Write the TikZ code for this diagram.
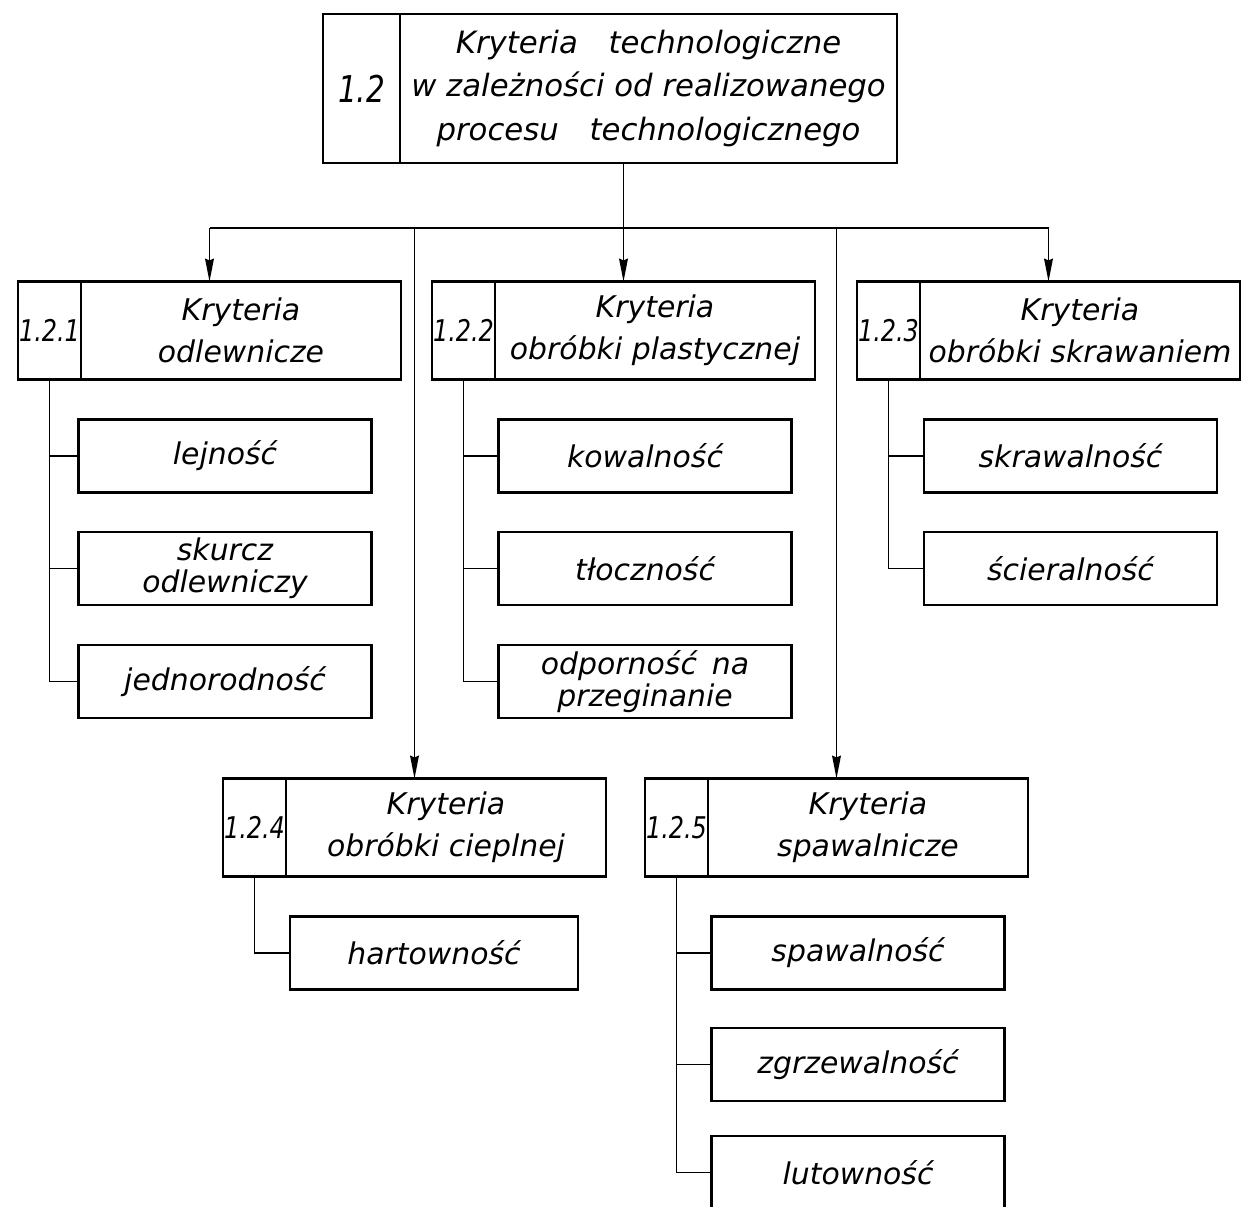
\documentclass[tikz,border=0pt]{standalone}
\usepackage{fontspec}
\setsansfont{DejaVu Sans}
\newfontfamily\narrowsans[FakeStretch=0.8]{DejaVu Sans}
\usepackage{tikz}
\usetikzlibrary{arrows.meta,calc,positioning}

\newcommand{\lettering}[2]{\sffamily\itshape\fontsize{#1}{#2}\selectfont}
\newcommand{\numbering}[1]{\narrowsans\itshape\fontsize{#1}{#1}\selectfont}

\begin{document}
\begin{tikzpicture}[
  box/.style={draw,line width=1.4pt,inner sep=0pt,outer sep=0pt,align=center},
  numcell/.style={box,minimum width=1.26cm,minimum height=1.96cm,font=\numbering{17}},
  headcell/.style={box,minimum width=6.4cm,minimum height=1.96cm,font=\lettering{17}{24}},
  leaf/.style={box,minimum width=5.86cm,minimum height=1.46cm,font=\lettering{17}{18}},
  link/.style={line width=0.9pt},
  feed/.style={link,-{Stealth[length=13pt,width=5pt,inset=1pt]}}
]
\useasboundingbox (0,0) rectangle (24.94,-24.14);

% Main criterion
\node[box,minimum width=1.54cm,minimum height=2.98cm,font=\numbering{21}] (n12) at (7.23,-1.77) {1.2};
\node[headcell,minimum width=9.94cm,minimum height=2.98cm,right=0pt of n12,font=\lettering{17.5}{24.5}] (t12)
  {Kryteria\quad technologiczne\\w zależności od realizowanego\\procesu\quad technologicznego};

% Sub-criteria, first row
\node[numcell] (n121) at (0.99,-6.61) {1.2.1};
\node[headcell,right=0pt of n121] (t121) {Kryteria\\odlewnicze};
\node[numcell] (n122) at (9.27,-6.61) {1.2.2};
\node[headcell,right=0pt of n122] (t122) {Kryteria\\obróbki plastycznej};
\node[numcell] (n123) at (17.77,-6.61) {1.2.3};
\node[headcell,right=0pt of n123] (t123) {Kryteria\\obróbki skrawaniem};

% Sub-criteria, second row
\node[numcell] (n124) at (5.09,-16.55) {1.2.4};
\node[headcell,right=0pt of n124] (t124) {Kryteria\\obróbki cieplnej};
\node[numcell] (n125) at (13.53,-16.55) {1.2.5};
\node[headcell,right=0pt of n125] (t125) {Kryteria\\spawalnicze};

% Properties
\node[leaf] (lej) at (4.5,-9.12) {lejność};
\node[leaf] (skur) at (4.5,-11.37) {skurcz\\odlewniczy};
\node[leaf] (jedn) at (4.5,-13.63) {jednorodność};
\node[leaf] (kow) at (12.9,-9.12) {kowalność};
\node[leaf] (tlo) at (12.9,-11.37) {tłoczność};
\node[leaf] (odp) at (12.9,-13.63) {odporność\enspace na\\przeginanie};
\node[leaf] (skraw) at (21.41,-9.12) {skrawalność};
\node[leaf] (scier) at (21.41,-11.37) {ścieralność};
\node[leaf,minimum width=5.76cm] (hart) at (8.68,-19.06) {hartowność};
\node[leaf] (spaw) at (17.16,-19.06) {spawalność};
\node[leaf] (zgrz) at (17.16,-21.29) {zgrzewalność};
\node[leaf] (lut) at (17.16,-23.45) {lutowność};

% Arrow entry points
\foreach \k in {121,122,123,124,125}
  \coordinate (in\k) at ($(n\k.north west)!0.5!(t\k.north east)$);
\coordinate (bus) at (0,-4.56);

% Distribution lines
\draw[link] (in121 |- bus) -- (in123 |- bus);
\draw[feed] (in122 |- t12.south) -- (in122);
\foreach \k in {121,123,124,125}
  \draw[feed] (in\k |- bus) -- (in\k);

% Property branches
\foreach \p in {lej,skur,jedn} \draw[link] (n121.south) |- (\p.west);
\foreach \p in {kow,tlo,odp} \draw[link] (n122.south) |- (\p.west);
\foreach \p in {skraw,scier} \draw[link] (n123.south) |- (\p.west);
\draw[link] (n124.south) |- (hart.west);
\foreach \p in {spaw,zgrz,lut} \draw[link] (n125.south) |- (\p.west);
\end{tikzpicture}
\end{document}
